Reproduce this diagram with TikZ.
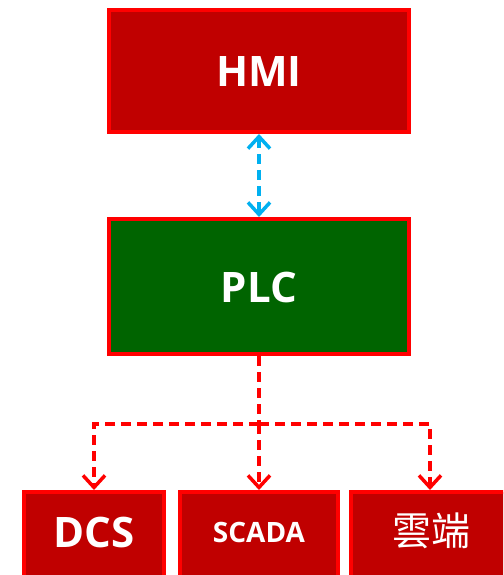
\documentclass[tikz,border=0pt]{standalone}
\usepackage{fontspec}
\setmainfont{Open Sans}
\newfontfamily\cjk{Noto Sans CJK TC}
\usetikzlibrary{arrows.meta}
\definecolor{boxred}{HTML}{C00000}
\definecolor{edgered}{HTML}{FF0000}
\definecolor{plcgreen}{HTML}{006400}
\definecolor{linkblue}{HTML}{00B0F0}
\tikzset{
  unit/.style={draw=edgered, line width=4pt, text=white, inner sep=0pt, anchor=center},
  redbox/.style={unit, fill=boxred},
  greenbox/.style={unit, fill=plcgreen},
  label/.style={text=white, font=\bfseries},
  barb/.style={-{Straight Barb[length=12pt,width=22pt]}},
  hmilink/.style={draw=linkblue, line width=3.5pt, dash pattern=on 10pt off 6pt,
    {Straight Barb[length=12pt,width=22pt]}-{Straight Barb[length=12pt,width=22pt]}},
  buslink/.style={draw=edgered, line width=3.5pt, dash pattern=on 10pt off 6pt}
}
\begin{document}
\begin{tikzpicture}[x=1pt, y=-1pt]
  \useasboundingbox (0,0) rectangle (503,575);
  \begin{scope}
    \clip (0,0) rectangle (503,575);
    % upper layers
    \node[redbox, minimum width=300pt, minimum height=122pt] (hmi) at (259,71) {};
    \node[label] (hmit) at (259,72) {\fontsize{42}{45}\selectfont HMI};
    \node[greenbox, minimum width=300pt, minimum height=135pt] (plc) at (259,286.5) {};
    \node[label] (plct) at (259,287) {\fontsize{42}{45}\selectfont PLC};
    % field / upper systems
    \node[redbox, minimum width=140pt, minimum height=90pt, anchor=north] (dcs) at (94,490) {};
    \node[redbox, minimum width=158pt, minimum height=90pt, anchor=north] (scada) at (259,490) {};
    \node[redbox, minimum width=158pt, minimum height=90pt, anchor=north] (cloud) at (430,490) {};
    \node[label] (dcst) at (94,532) {\fontsize{42}{45}\selectfont DCS};
    \node[label] (scadat) at (259,532) {\fontsize{28}{31}\selectfont SCADA};
    \node[text=white] (cloudt) at (431,531) {\cjk\fontsize{39}{42}\selectfont 雲端};
  \end{scope}
  % links
  \draw[hmilink] (hmi.south) -- (plc.north);
  \coordinate (split) at (259,424);
  \draw[buslink] (plc.south) -- (split);
  \draw[buslink, barb] (split) -- (scada.north);
  \draw[buslink, barb] (split) -| (dcs.north);
  \draw[buslink, barb] (split) -| (cloud.north);
\end{tikzpicture}
\end{document}
